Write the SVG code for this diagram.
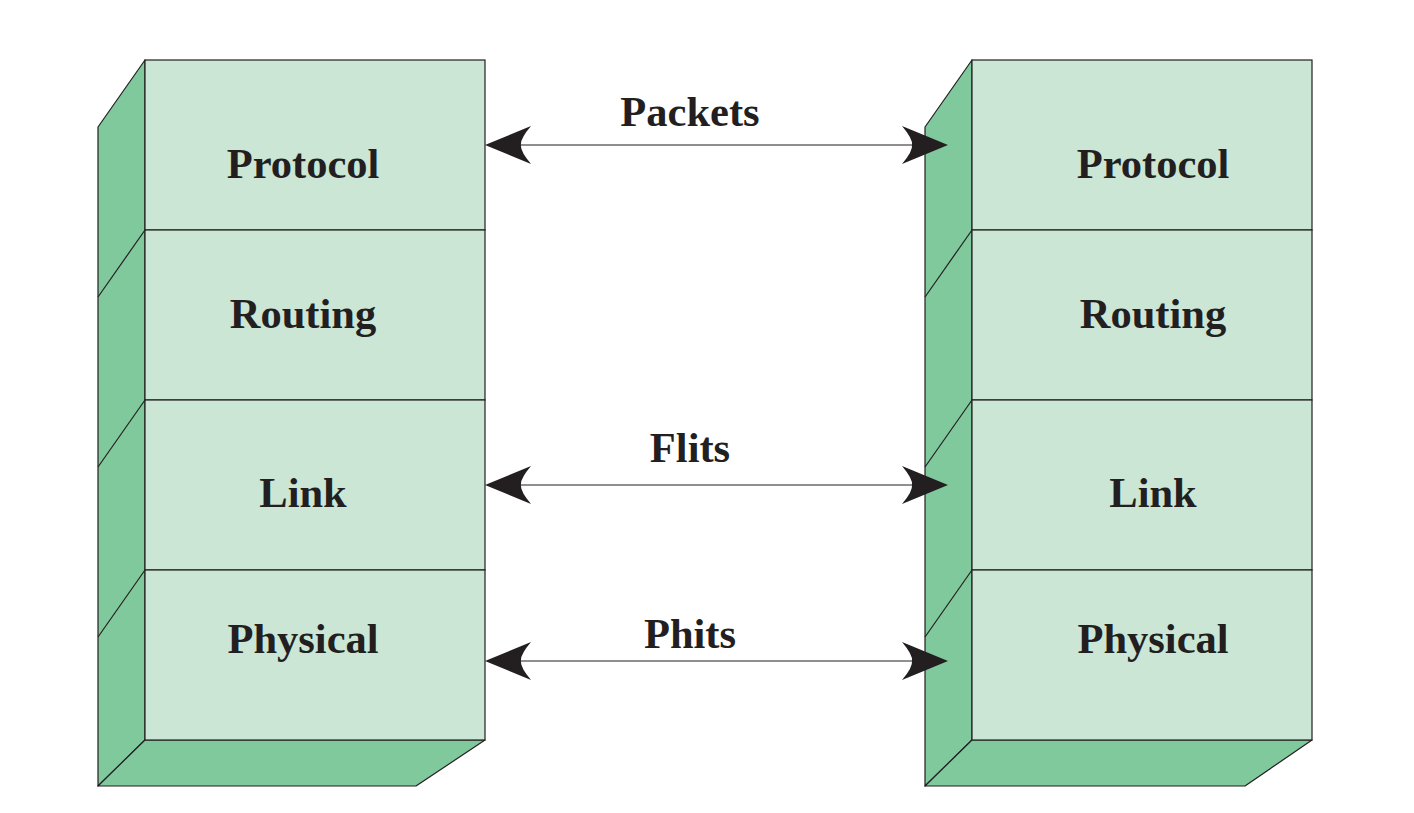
<svg xmlns="http://www.w3.org/2000/svg" width="1414" height="813" viewBox="0 0 1414 813">
<style>
.front{fill:#cbe6d5;stroke:#231f20;stroke-width:1.2}
.side{fill:#80c99c;stroke:#231f20;stroke-width:1.2;stroke-linejoin:round}
.ln{fill:none;stroke:#231f20;stroke-width:1.2}
.lbl{font-family:"Liberation Serif","Times New Roman",serif;font-weight:bold;font-size:42.5px;fill:#231f20;text-anchor:middle}
.conn{stroke:#231f20;stroke-width:1.2;fill:none}
.head{fill:#231f20}
</style>
<defs>
<path id="ahR" d="M0,0 L-46,-19 Q-35,-6 -36,0 Q-35,6 -46,19 Z"/>
</defs>
<g id="left-stack">
<polygon class="side" points="98,127 145,60 145,740 98,786"/>
<polygon class="side" points="98,786 145,740 485,740 416,786"/>
<line class="ln" x1="145" y1="230" x2="98" y2="297"/>
<line class="ln" x1="145" y1="400" x2="98" y2="467"/>
<line class="ln" x1="145" y1="570" x2="98" y2="637"/>
<g id="L-protocol"><rect class="front" x="145" y="60" width="340" height="170"/><text class="lbl" x="303" y="178">Protocol</text></g>
<g id="L-routing"><rect class="front" x="145" y="230" width="340" height="170"/><text class="lbl" x="303" y="328">Routing</text></g>
<g id="L-link"><rect class="front" x="145" y="400" width="340" height="170"/><text class="lbl" x="303" y="507">Link</text></g>
<g id="L-physical"><rect class="front" x="145" y="570" width="340" height="170"/><text class="lbl" x="303" y="653">Physical</text></g>
</g>
<g id="right-stack">
<polygon class="side" points="925,127 972,60 972,740 925,786"/>
<polygon class="side" points="925,786 972,740 1312,740 1245,786"/>
<line class="ln" x1="972" y1="230" x2="925" y2="297"/>
<line class="ln" x1="972" y1="400" x2="925" y2="467"/>
<line class="ln" x1="972" y1="570" x2="925" y2="637"/>
<g id="R-protocol"><rect class="front" x="972" y="60" width="340" height="170"/><text class="lbl" x="1153" y="178">Protocol</text></g>
<g id="R-routing"><rect class="front" x="972" y="230" width="340" height="170"/><text class="lbl" x="1153" y="328">Routing</text></g>
<g id="R-link"><rect class="front" x="972" y="400" width="340" height="170"/><text class="lbl" x="1153" y="507">Link</text></g>
<g id="R-physical"><rect class="front" x="972" y="570" width="340" height="170"/><text class="lbl" x="1153" y="653">Physical</text></g>
</g>
<g id="connectors">
<line class="conn" x1="500" y1="145" x2="930" y2="145"/>
<use href="#ahR" class="head" transform="translate(948,145)"/>
<use href="#ahR" class="head" transform="translate(485,145) scale(-1,1)"/>
<text class="lbl" x="690" y="126">Packets</text>
<line class="conn" x1="500" y1="485" x2="930" y2="485"/>
<use href="#ahR" class="head" transform="translate(948,485)"/>
<use href="#ahR" class="head" transform="translate(485,485) scale(-1,1)"/>
<text class="lbl" x="690" y="462">Flits</text>
<line class="conn" x1="500" y1="661" x2="930" y2="661"/>
<use href="#ahR" class="head" transform="translate(948,661)"/>
<use href="#ahR" class="head" transform="translate(485,661) scale(-1,1)"/>
<text class="lbl" x="690" y="648">Phits</text>
</g>
</svg>
